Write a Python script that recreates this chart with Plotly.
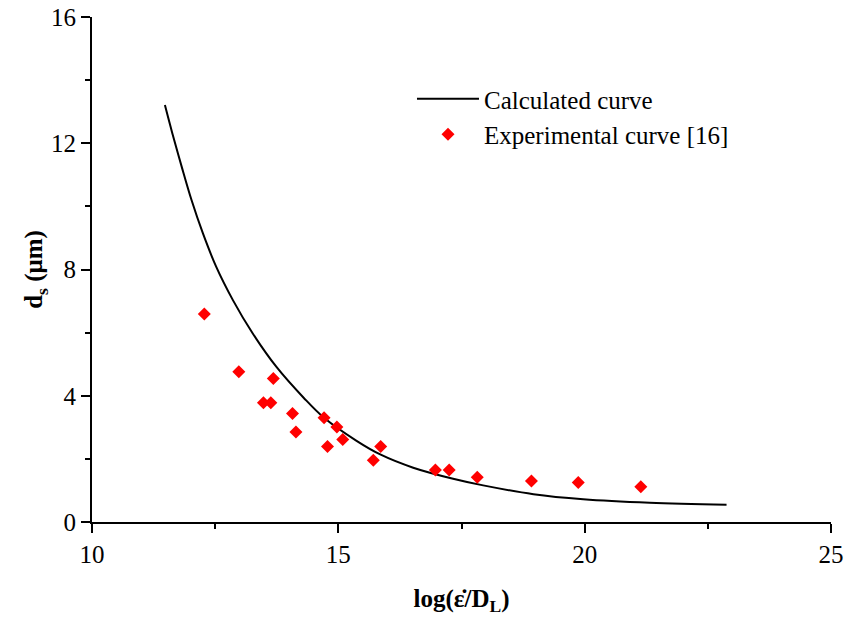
import plotly.graph_objects as go

# Calculated curve
calc_x = [11.48, 11.63, 11.82, 12.02, 12.25, 12.52, 12.86, 13.26, 13.74, 14.30,
          14.71, 15.37, 15.85, 16.52, 17.33, 17.94, 18.96, 19.97, 21.32, 22.88]
calc_y = [13.21, 12.32, 11.26, 10.20, 9.15, 8.09, 7.03, 5.98, 4.92, 3.93,
          3.30, 2.57, 2.14, 1.72, 1.37, 1.16, 0.88, 0.72, 0.61, 0.55]

# Experimental curve [16]
exp_x = [12.28, 12.98, 13.68, 13.48, 13.63, 14.07, 14.14, 14.71, 14.78, 14.97,
         15.09, 15.71, 15.86, 16.97, 17.25, 17.82, 18.92, 19.87, 21.14]
exp_y = [6.59, 4.76, 4.55, 3.78, 3.78, 3.44, 2.85, 3.30, 2.39, 3.01,
         2.61, 1.96, 2.39, 1.65, 1.65, 1.42, 1.30, 1.25, 1.12]

x_ticks = [10, 15, 20, 25]
y_ticks = [0, 4, 8, 12, 16]

FONT = "Liberation Serif, Times New Roman, serif"

fig = go.Figure()
fig.add_trace(go.Scatter(x=calc_x, y=calc_y, mode="lines", name="Calculated curve",
                         line=dict(color="black", width=2, shape="spline", smoothing=1.0)))
fig.add_trace(go.Scatter(x=exp_x, y=exp_y, mode="markers", name="Experimental curve [16]",
                         marker=dict(symbol="diamond", color="#ff0000", size=10,
                                     line=dict(width=0))))

axis_common = dict(showgrid=False, zeroline=False, showline=True, linecolor="black",
                   linewidth=2, ticks="outside", ticklen=9, tickwidth=2, tickcolor="black",
                   tickfont=dict(family=FONT, size=25, color="black"), mirror=False,
                   automargin=False)

fig.update_xaxes(range=[10, 25], tickvals=x_ticks, ticktext=[str(v) for v in x_ticks],
                 minor=dict(dtick=2.5, tick0=10, ticks="outside", ticklen=5, tickwidth=2,
                            tickcolor="black"),
                 title=dict(text="<b>log(ε̇/D<sub>L</sub>)</b>", font=dict(family=FONT, size=25, color="black"),
                            standoff=22),
                 **axis_common)
fig.update_yaxes(range=[0, 16], tickvals=y_ticks, ticktext=[str(v) for v in y_ticks],
                 minor=dict(dtick=2, tick0=0, ticks="outside", ticklen=5, tickwidth=2,
                            tickcolor="black"),
                 title=dict(text="<b>d<sub>s</sub> (μm)</b>", font=dict(family=FONT, size=25, color="black"),
                            standoff=1),
                 **axis_common)

fig.update_layout(
    width=845, height=620,
    margin=dict(l=92, r=14, t=17, b=98, pad=0),
    plot_bgcolor="white", paper_bgcolor="white",
    font=dict(family=FONT, size=25, color="black"),
    legend=dict(x=0.433, y=0.883, xanchor="left", yanchor="top",
                bgcolor="rgba(0,0,0,0)", borderwidth=0,
                font=dict(family=FONT, size=25, color="black"),
                itemwidth=62, tracegroupgap=0),
    showlegend=True,
)

fig.write_html("out.html")
